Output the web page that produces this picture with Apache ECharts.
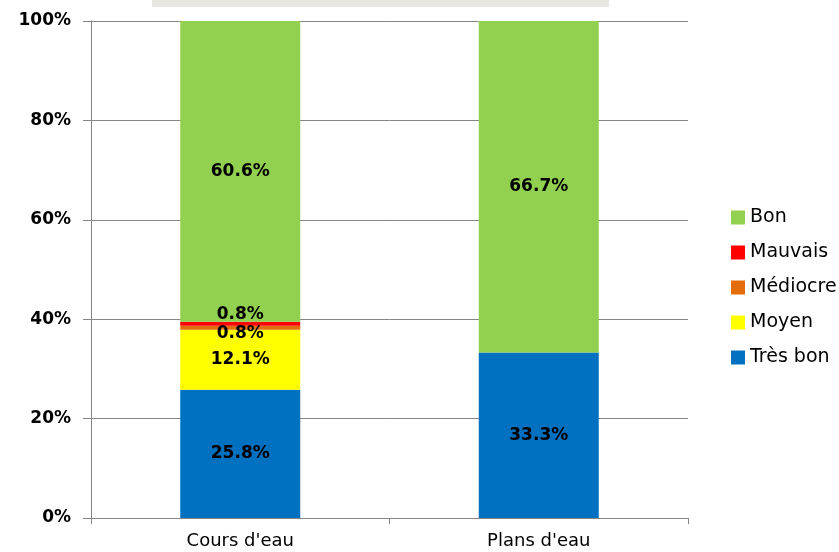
<!DOCTYPE html>
<html>
<head>
<meta charset="utf-8">
<script src="https://cdn.jsdelivr.net/npm/echarts@6/dist/echarts.min.js"></script>
<style>
html, body { margin: 0; padding: 0; background: #fff; }
#chart { width: 839px; height: 552px; }
</style>
</head>
<body>
<div id="chart"></div>
<script>
var categories = ["Cours d'eau", "Plans d'eau"];
var tresBon = [25.8, 33.3];
var moyen = [12.1, 0];
var mediocre = [0.8, 0];
var mauvais = [0.8, 0];
var bon = [60.6, 66.7];
var legendOrder = ['Bon', 'Mauvais', 'Médiocre', 'Moyen', 'Très bon'];

var myChart = echarts.init(document.getElementById('chart'));

function pct(p) {
	return p.value ? p.value.toFixed(1) + '%' : '';
}
function mkSeries(name, data, color, offset) {
	return {
		name: name, type: 'bar', stack: 'total', data: data, barWidth: 120,
		itemStyle: {color: color},
		label: {show: true, position: 'inside', formatter: pct, offset: offset || [0, 0],
			color: '#000', fontWeight: 'bold', fontSize: 17, fontFamily: 'DejaVu Sans'}
	};
}

var option = {
	animation: false,
	backgroundColor: '#fff',
	graphic: [{type: 'rect', left: 152, top: 0, shape: {width: 457, height: 7},
		style: {fill: '#e8e6e1'}, silent: true}],
	grid: {left: 91, right: 151, top: 21, bottom: 34},
	legend: {
		orient: 'vertical', left: 726, top: 203, itemWidth: 14, itemHeight: 14,
		itemGap: 16, itemTextGap: 6, icon: 'rect',
		data: legendOrder,
		textStyle: {fontSize: 19, lineHeight: 19, color: '#000', fontFamily: 'DejaVu Sans'}
	},
	xAxis: {
		type: 'category', data: categories,
		axisLine: {lineStyle: {color: '#868686'}},
		axisTick: {show: true, length: 6, lineStyle: {color: '#868686'}},
		axisLabel: {color: '#000', fontSize: 18, margin: 14, fontFamily: 'DejaVu Sans'}
	},
	yAxis: {
		type: 'value', min: 0, max: 100, interval: 20,
		axisLine: {show: true, lineStyle: {color: '#868686'}},
		axisTick: {show: true, length: 8, lineStyle: {color: '#868686'}},
		axisLabel: {formatter: '{value}%', color: '#000', fontSize: 17, fontWeight: 'bold',
			margin: 20, fontFamily: 'DejaVu Sans'},
		splitLine: {lineStyle: {color: '#868686'}}
	},
	series: [
		mkSeries('Très bon', tresBon, '#0070c0'),
		mkSeries('Moyen', moyen, '#ffff00'),
		mkSeries('Médiocre', mediocre, '#e46c0a', [0, 6]),
		mkSeries('Mauvais', mauvais, '#ff0000', [0, -9]),
		mkSeries('Bon', bon, '#92d050')
	]
};
myChart.setOption(option, true);
</script>
</body>
</html>
